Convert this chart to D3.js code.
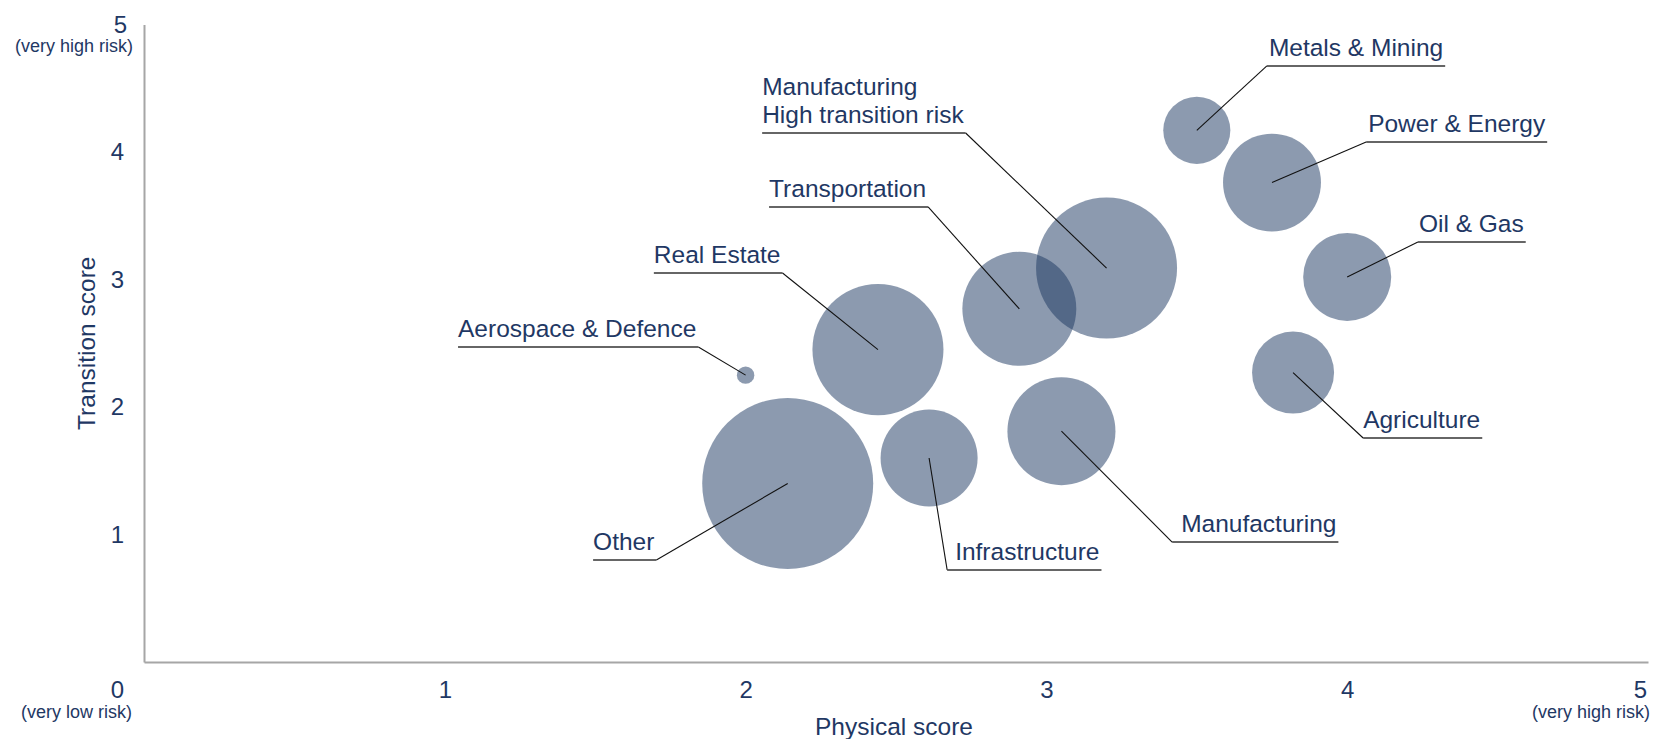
<!DOCTYPE html>
<html><head><meta charset="utf-8">
<script src="https://cdn.jsdelivr.net/npm/d3@7"></script>
<style>
body{margin:0;background:#fff}
svg{display:block}
text{font-family:"Liberation Sans",Arial,Helvetica,sans-serif;fill:#1f3864}
</style>
</head><body>
<svg id="c" width="1654" height="739"></svg>
<script>
// ---- data ----
const sectors = ["Metals & Mining","Power & Energy","Oil & Gas","Agriculture","Manufacturing","Infrastructure","Other","Aerospace & Defence","Real Estate","Transportation","Manufacturing\nHigh transition risk"];
const physicalScore   = [3.50, 3.75, 4.00, 3.82, 3.05, 2.61, 2.14, 2.00, 2.44, 2.91, 3.20];
const transitionScore = [4.17, 3.76, 3.02, 2.27, 1.81, 1.60, 1.40, 2.25, 2.45, 2.77, 3.09];
const exposure        = [15.4, 32.8, 26.5, 23.0, 39.9, 32.2, 100, 1.04, 58.7, 44.4, 68.0];
const xTickValues = [1, 2, 3, 4];
const yTickValues = [1, 2, 3, 4];
const axisEnds = { low: "0", high: "5", lowNote: "(very low risk)", highNote: "(very high risk)" };

// ---- label layout (annotation anchors, in score units) ----
const labelAnchorX = [3.733, 4.063, 4.235, 4.053, 3.418, 2.670, 1.493, 1.044, 1.695, 2.078, 2.055];
const labelAnchorY = [4.675, 4.078, 3.294, 1.757, 0.941, 0.722, 0.800, 2.471, 3.051, 3.569, 4.149];
const labelSide    = ["L","L","L","L","L","L","R","R","R","R","R"]; // which end of the underline the leader attaches to
const labelIndent  = [2, 2, 1, 0, 9, 8, 0, 0, 0, 0, 0];

// ---- chart ----
const svg = d3.select("#c");
const x = d3.scaleLinear().domain([0, 5]).range([144, 1648]);
const y = d3.scaleLinear().domain([0, 5]).range([662, 24.5]);
const r = d3.scaleSqrt().domain([0, 100]).range([0, 85.5]);

const axisColor = "#a6a6a6";
const tickFont = "24px";

// x axis
const gx = svg.append("g").attr("transform", `translate(0,${y(0)})`)
  .call(d3.axisBottom(x).tickValues(xTickValues).tickSize(0).tickSizeOuter(0).tickPadding(19).tickFormat(d3.format("d")));
gx.select(".domain").attr("stroke", axisColor).attr("stroke-width", 2);
gx.selectAll(".tick text").attr("font-size", tickFont).attr("fill", "#1f3864")
  .attr("font-family", '"Liberation Sans",Arial,sans-serif');

// y axis
const gy = svg.append("g").attr("transform", `translate(${x(0)},0)`)
  .call(d3.axisLeft(y).tickValues(yTickValues).tickSize(0).tickSizeOuter(0).tickPadding(20).tickFormat(d3.format("d")));
gy.select(".domain").attr("stroke", axisColor).attr("stroke-width", 2);
gy.selectAll(".tick text").attr("font-size", tickFont).attr("fill", "#1f3864")
  .attr("font-family", '"Liberation Sans",Arial,sans-serif');

// axis end labels
const ends = svg.append("g").attr("text-anchor", "end");
ends.append("text").attr("x", x(0) - 17).attr("y", y(5) + 8).attr("font-size", tickFont).text(axisEnds.high);
ends.append("text").attr("x", x(0) - 11).attr("y", y(5) + 27).attr("font-size", "18px").text(axisEnds.highNote);
ends.append("text").attr("x", x(0) - 20).attr("y", y(0) + 36).attr("font-size", tickFont).text(axisEnds.low);
ends.append("text").attr("x", x(0) - 12).attr("y", y(0) + 56).attr("font-size", "18px").text(axisEnds.lowNote);
ends.append("text").attr("x", x(5) - 1).attr("y", y(0) + 36).attr("font-size", tickFont).text(axisEnds.high);
ends.append("text").attr("x", x(5) + 2).attr("y", y(0) + 56).attr("font-size", "18px").text(axisEnds.highNote);

// axis titles
svg.append("text").attr("transform", `translate(95,${(y(0)+y(5))/2 + 0})rotate(-90)`)
  .attr("text-anchor", "middle").attr("font-size", "24.5px").text("Transition score");
svg.append("text").attr("x", (x(0) + x(5)) / 2 - 2).attr("y", 735)
  .attr("text-anchor", "middle").attr("font-size", "24.5px").text("Physical score");

const rows = sectors.map((s, i) => ({
  name: s, px: physicalScore[i], ty: transitionScore[i], v: exposure[i],
  lx: labelAnchorX[i], ly: labelAnchorY[i], side: labelSide[i], indent: labelIndent[i]
}));

// bubbles
svg.append("g").selectAll("circle").data(rows).join("circle")
  .attr("cx", d => x(d.px)).attr("cy", d => y(d.ty)).attr("r", d => r(d.v))
  .attr("fill", "#19355f").attr("fill-opacity", 0.5);

// labels
const lg = svg.append("g");
const leaders = lg.append("g");
const unders = lg.append("g");
const texts = lg.append("g");

rows.forEach(d => {
  const ux = x(d.lx), uy = y(d.ly);
  const lines = d.name.split("\n");
  const t = texts.append("text").attr("font-size", "24.5px");
  lines.forEach((ln, k) => {
    t.append("tspan").attr("x", ux + d.indent)
      .attr("y", uy - 10 - (lines.length - 1 - k) * 28).text(ln);
  });
  let w = 0;
  t.selectAll("tspan").each(function () { w = Math.max(w, this.getComputedTextLength()); });
  const x1 = ux, x2 = ux + d.indent + w + 2;
  unders.append("line").attr("x1", x1).attr("x2", x2).attr("y1", uy).attr("y2", uy)
    .attr("stroke", "#333").attr("stroke-width", 1.5);
  const ax = d.side === "L" ? x1 : x2;
  leaders.append("line").attr("x1", ax).attr("y1", uy).attr("x2", x(d.px)).attr("y2", y(d.ty))
    .attr("stroke", "#111").attr("stroke-width", 1.1);
});
</script>
</body></html>
